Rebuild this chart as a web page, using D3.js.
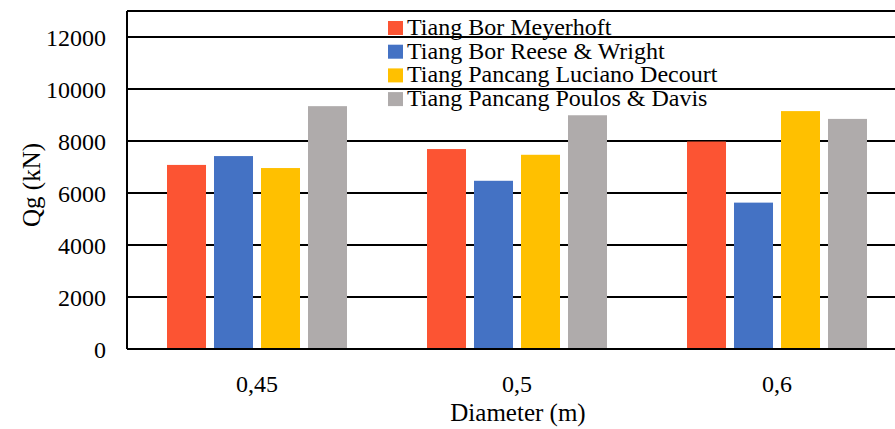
<!DOCTYPE html>
<html><head><meta charset="utf-8">
<script src="https://cdn.jsdelivr.net/npm/d3@7"></script>
<style>body{margin:0;background:#fff}svg{display:block}text{font-family:"Liberation Serif","Times New Roman",serif;fill:#000}</style>
</head><body><svg id="c" width="895" height="429"></svg>
<script>
const categories = ["0,45", "0,5", "0,6"];
const seriesNames = ["Tiang Bor Meyerhoft", "Tiang Bor Reese & Wright", "Tiang Pancang Luciano Decourt", "Tiang Pancang Poulos & Davis"];
const meyerhoft = [7080, 7690, 7980];
const reeseWright = [7420, 6470, 5630];
const lucianoDecourt = [6960, 7470, 9150];
const poulosDavis = [9340, 8990, 8850];
const yTicks = [0, 2000, 4000, 6000, 8000, 10000, 12000];
const colors = ["#FC5433", "#4472C4", "#FFC000", "#AFABAB"];
const seriesValues = [meyerhoft, reeseWright, lucianoDecourt, poulosDavis];

const svg = d3.select("#c");
const m = {left: 127, top: 11, bottom: 349, right: 907};

const x = d3.scaleBand().domain(categories).range([m.left, m.right]).paddingInner(0).paddingOuter(0);
const x1 = d3.scaleBand().domain(d3.range(4)).range([0, 180]).paddingInner(0.17);
const y = d3.scaleLinear().domain([0, 13000]).range([m.bottom, m.top]);

svg.append("g").selectAll("line").data(yTicks.filter(d => d > 0)).join("line")
  .attr("x1", m.left).attr("x2", m.right)
  .attr("y1", d => y(d)).attr("y2", d => y(d))
  .attr("stroke", "#000").attr("stroke-width", 2);
svg.append("line").attr("x1", m.left).attr("x2", m.right).attr("y1", y(13000)).attr("y2", y(13000))
  .attr("stroke", "#000").attr("stroke-width", 2);

const g = svg.append("g");
categories.forEach((c, i) => {
  const gx = x(c) + (x.bandwidth() - 180) / 2;
  seriesValues.forEach((vals, s) => {
    g.append("rect")
      .attr("x", gx + x1(s)).attr("width", x1.bandwidth())
      .attr("y", y(vals[i])).attr("height", y(0) - y(vals[i]))
      .attr("fill", colors[s]);
  });
});

const yAxis = d3.axisLeft(y).tickValues(yTicks).tickSize(0).tickPadding(21).tickFormat(d3.format("d"));
const ya = svg.append("g").attr("transform", `translate(${m.left},0)`).call(yAxis)
  .attr("font-family", null).attr("font-size", null);
ya.select(".domain").remove();
ya.selectAll("text").style("font-size", "24px").attr("dy", "0.36em");
svg.append("line").attr("x1", m.left).attr("x2", m.left).attr("y1", y(13000)).attr("y2", y(0))
  .attr("stroke", "#000").attr("stroke-width", 2);

const xAxis = d3.axisBottom(x).tickSize(0).tickPadding(26);
const xa = svg.append("g").attr("transform", `translate(0,${m.bottom})`).call(xAxis)
  .attr("font-family", null).attr("font-size", null);
xa.select(".domain").remove();
xa.selectAll("text").style("font-size", "24px");
svg.append("line").attr("x1", m.left).attr("x2", m.right).attr("y1", y(0)).attr("y2", y(0))
  .attr("stroke", "#000").attr("stroke-width", 2);

svg.append("text").attr("x", 518).attr("y", 421).attr("text-anchor", "middle")
  .style("font-size", "25px").text("Diameter (m)");
svg.append("text").attr("transform", "translate(40,185) rotate(-90)").attr("text-anchor", "middle")
  .style("font-size", "25px").text("Qg (kN)");

const lg = svg.append("g").attr("transform", "translate(388,21)");
seriesNames.forEach((n, i) => {
  lg.append("rect").attr("x", 0).attr("y", i * 23.7).attr("width", 15).attr("height", 14).attr("fill", colors[i]);
  lg.append("text").attr("x", 19).attr("y", i * 23.7 + 14).style("font-size", "24px").text(n);
});
</script></body></html>
